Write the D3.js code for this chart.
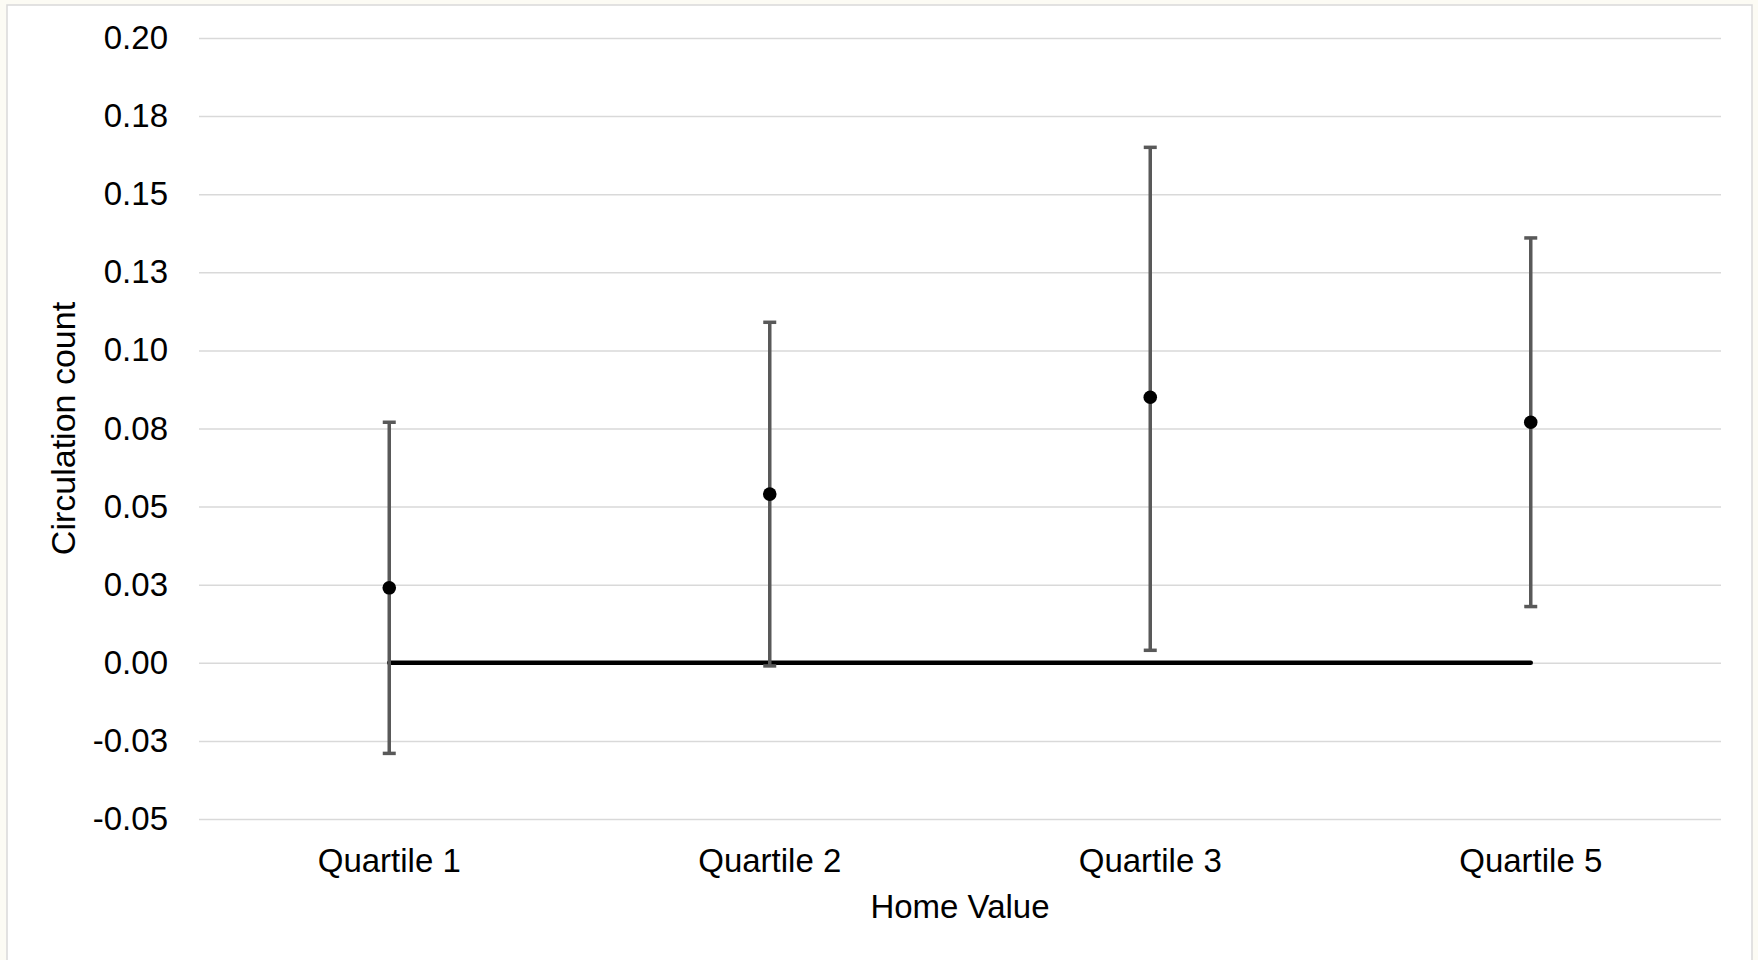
<!DOCTYPE html>
<html lang="en">

<head>
  <meta charset="UTF-8">
  <title>circulation by home value</title>
  <script src="https://d3js.org/d3.v7.min.js"></script>
  <style>
    body { margin: 0; background: #fcfbf4; }
    svg { display: block; }
    text { font-family: "Liberation Sans", Arial, sans-serif; fill: #000; }
  </style>
</head>

<body>
  <svg width="1758" height="960" id="chart"></svg>

  <script>
    // values
    const categories = ["Quartile 1", "Quartile 2", "Quartile 3", "Quartile 5"];
    const means = [0.024, 0.054, 0.085, 0.077];
    const upper = [0.077, 0.109, 0.165, 0.136];
    const lower = [-0.029, -0.001, 0.004, 0.018];
    const baseline = [0, 0, 0, 0];
    const tickValues = [-0.05, -0.025, 0, 0.025, 0.05, 0.075, 0.1, 0.125, 0.15, 0.175, 0.2];
    const tickLabels = ["-0.05", "-0.03", "0.00", "0.03", "0.05", "0.08", "0.10", "0.13", "0.15", "0.18", "0.20"];

    const svg = d3.select("#chart");
    const width = +svg.attr("width");
    const height = +svg.attr("height");
    const margin = { top: 38, right: 37, bottom: 141, left: 199 };

    // white chart area with thin grey border
    svg.append("rect")
      .attr("x", 7).attr("y", 5)
      .attr("width", 1745).attr("height", 970)
      .attr("fill", "#fff")
      .attr("stroke", "#d9d9d9")
      .attr("stroke-width", 1.5);

    const x = d3.scaleBand()
      .domain(categories)
      .range([margin.left, width - margin.right]);

    const y = d3.scaleLinear()
      .domain([-0.05, 0.2])
      .range([height - margin.bottom, margin.top]);

    // gridlines + tick labels
    const yAxis = d3.axisLeft(y)
      .tickValues(tickValues)
      .tickSize(-(width - margin.left - margin.right))
      .tickPadding(31)
      .tickFormat((d, i) => tickLabels[i]);

    const yAxisArea = svg.append("g")
      .attr("transform", `translate(${margin.left},0)`)
      .call(yAxis);
    yAxisArea.select(".domain").remove();
    yAxisArea.selectAll(".tick line")
      .attr("stroke", "#d9d9d9")
      .attr("stroke-width", 1.5);
    yAxisArea.selectAll(".tick text")
      .style("font-size", "33px")
      .attr("fill", "#000");

    // x category labels
    const xAxis = d3.axisBottom(x).tickSize(0).tickPadding(0);
    const xAxisArea = svg.append("g")
      .attr("transform", `translate(0,${height - margin.bottom + 30})`)
      .call(xAxis);
    xAxisArea.select(".domain").remove();
    xAxisArea.selectAll(".tick text")
      .style("font-size", "33px")
      .attr("fill", "#000");

    const cx = d => x(d) + x.bandwidth() / 2;

    // zero series line
    const line = d3.line()
      .x((d, i) => cx(categories[i]))
      .y(d => y(d));
    svg.append("path")
      .datum(baseline)
      .attr("d", line)
      .attr("fill", "none")
      .attr("stroke", "#000")
      .attr("stroke-width", 4.5)
      .attr("stroke-linecap", "round");

    // error bars
    const bars = svg.append("g").selectAll("g")
      .data(categories)
      .join("g");

    bars.append("line")
      .attr("x1", d => cx(d)).attr("x2", d => cx(d))
      .attr("y1", (d, i) => y(lower[i]))
      .attr("y2", (d, i) => y(upper[i]))
      .attr("stroke", "#595959")
      .attr("stroke-width", 3.5);

    bars.append("line")
      .attr("x1", d => cx(d) - 6.5).attr("x2", d => cx(d) + 6.5)
      .attr("y1", (d, i) => y(upper[i]))
      .attr("y2", (d, i) => y(upper[i]))
      .attr("stroke", "#595959")
      .attr("stroke-width", 3.5);

    bars.append("line")
      .attr("x1", d => cx(d) - 6.5).attr("x2", d => cx(d) + 6.5)
      .attr("y1", (d, i) => y(lower[i]))
      .attr("y2", (d, i) => y(lower[i]))
      .attr("stroke", "#595959")
      .attr("stroke-width", 3.5);

    bars.append("circle")
      .attr("cx", d => cx(d))
      .attr("cy", (d, i) => y(means[i]))
      .attr("r", 6.8)
      .attr("fill", "#000");

    // axis titles
    svg.append("text")
      .attr("x", (margin.left + width - margin.right) / 2)
      .attr("y", 918)
      .attr("text-anchor", "middle")
      .style("font-size", "33px")
      .text("Home Value");

    svg.append("text")
      .attr("transform", `translate(75,${(margin.top + height - margin.bottom) / 2}) rotate(-90)`)
      .attr("text-anchor", "middle")
      .style("font-size", "34px")
      .text("Circulation count");
  </script>

</body>

</html>
